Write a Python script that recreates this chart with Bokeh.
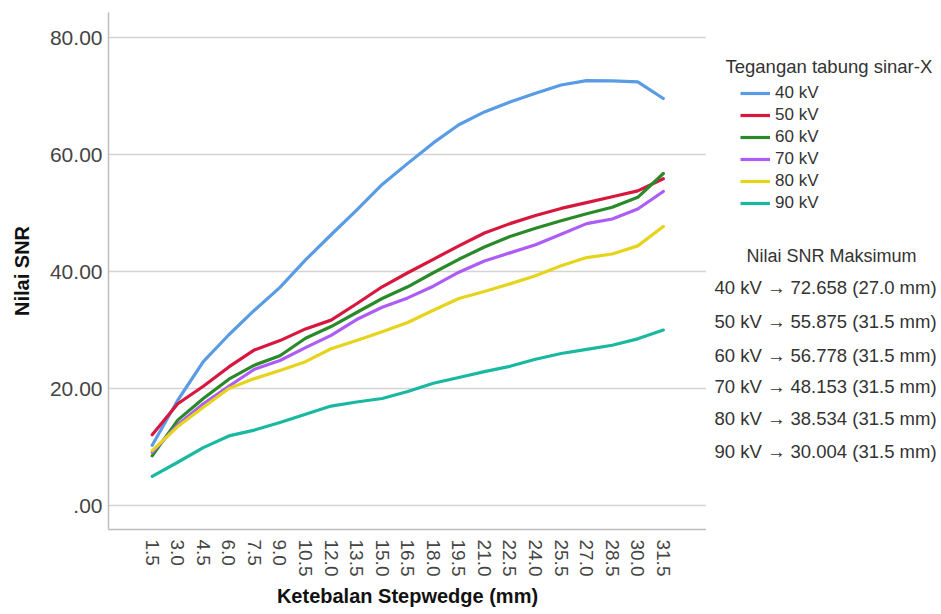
import math
from bokeh.plotting import figure
from bokeh.layouts import row
from bokeh.models import FixedTicker, Range1d, Legend, LegendItem, Label
from bokeh.embed import file_html
from bokeh.resources import INLINE

# ---------------- data ----------------
thickness_labels = ["1.5", "3.0", "4.5", "6.0", "7.5", "9.0", "10.5", "12.0", "13.5", "15.0",
                    "16.5", "18.0", "19.5", "21.0", "22.5", "24.0", "25.5", "27.0", "28.5",
                    "30.0", "31.5"]

snr_40 = [10.3, 18.0, 24.6, 29.2, 33.4, 37.3, 42.0, 46.3, 50.5, 54.9, 58.5, 62.0, 65.1, 67.3,
          69.0, 70.5, 71.9, 72.658, 72.6, 72.45, 69.6]
snr_50 = [12.1, 17.4, 20.4, 23.7, 26.6, 28.2, 30.2, 31.7, 34.5, 37.4, 39.8, 42.1, 44.4, 46.6,
          48.2, 49.6, 50.8, 51.8, 52.8, 53.8, 55.875]
snr_60 = [8.5, 14.6, 18.3, 21.6, 24.0, 25.6, 28.6, 30.6, 33.0, 35.4, 37.4, 39.8, 42.1, 44.2,
          46.0, 47.4, 48.7, 49.9, 51.0, 52.7, 56.778]
snr_70 = [9.1, 13.8, 17.4, 20.4, 23.3, 24.8, 27.0, 29.1, 31.8, 33.9, 35.5, 37.5, 39.9, 41.8,
          43.2, 44.6, 46.4, 48.2, 49.0, 50.7, 53.7]
snr_80 = [9.4, 13.5, 16.8, 20.0, 21.7, 23.1, 24.6, 26.8, 28.2, 29.7, 31.3, 33.4, 35.4, 36.6,
          37.9, 39.3, 41.0, 42.4, 43.0, 44.4, 47.7]
snr_90 = [5.0, 7.4, 9.9, 11.9, 12.9, 14.2, 15.6, 17.0, 17.7, 18.3, 19.5, 20.9, 21.9, 22.9,
          23.8, 25.0, 26.0, 26.7, 27.4, 28.5, 30.0]

series_names = ["40 kV", "50 kV", "60 kV", "70 kV", "80 kV", "90 kV"]
series_values = [snr_40, snr_50, snr_60, snr_70, snr_80, snr_90]
series_colors = ["#5a9be6", "#d8173f", "#2a8a2a", "#ae5cf6", "#e6d41c", "#19b8a0"]

y_ticks = [0, 20, 40, 60, 80]
y_tick_labels = [".00", "20.00", "40.00", "60.00", "80.00"]

legend_title = "Tegangan tabung sinar-X"
max_title = "Nilai SNR Maksimum"
max_lines = ["40 kV \u2192 72.658 (27.0 mm)",
             "50 kV \u2192 55.875 (31.5 mm)",
             "60 kV \u2192 56.778 (31.5 mm)",
             "70 kV \u2192 48.153 (31.5 mm)",
             "80 kV \u2192 38.534 (31.5 mm)",
             "90 kV \u2192 30.004 (31.5 mm)"]

FONT = "Liberation Sans"
n = len(thickness_labels)
xs = list(range(n))

# ---------------- main chart ----------------
p = figure(width=706, height=612, output_backend="svg", toolbar_location=None,
           x_range=Range1d(-1.71, n - 1 + 1.69), y_range=Range1d(-4.1, 84.3),
           min_border_left=108, min_border_right=0, min_border_top=12, min_border_bottom=83)
p.outline_line_color = None

for vals, col in zip(series_values, series_colors):
    p.line(xs, vals, line_color=col, line_width=3.2, line_join="round", line_cap="round")

p.xaxis.ticker = FixedTicker(ticks=xs)
p.xaxis.major_label_overrides = {i: lab for i, lab in zip(xs, thickness_labels)}
p.xaxis.major_label_orientation = -math.pi / 2
p.yaxis.ticker = FixedTicker(ticks=y_ticks)
p.yaxis.major_label_overrides = {t: lab for t, lab in zip(y_ticks, y_tick_labels)}

for ax in (p.xaxis, p.yaxis):
    ax.axis_line_color = "#bdbdbd"
    ax.axis_line_width = 1.5
    ax.major_tick_line_color = None
    ax.minor_tick_line_color = None
    ax.major_tick_out = 0
    ax.major_tick_in = 0
    ax.minor_tick_out = 0
    ax.minor_tick_in = 0
    ax.major_label_text_font = FONT
    ax.major_label_text_color = "#444444"
    ax.axis_label_text_font = FONT
    ax.axis_label_text_font_style = "bold"
    ax.axis_label_text_color = "#111111"

p.xaxis.major_label_text_font_size = "19px"
p.yaxis.major_label_text_font_size = "21px"
p.xaxis.major_label_standoff = 10
p.yaxis.major_label_standoff = 6
p.xaxis.axis_label = "Ketebalan Stepwedge (mm)"
p.yaxis.axis_label = "Nilai SNR"
p.xaxis.axis_label_text_font_size = "20px"
p.yaxis.axis_label_text_font_size = "20px"
p.xaxis.axis_label_standoff = 6
p.yaxis.axis_label_standoff = 14

p.xgrid.grid_line_color = None
p.ygrid.grid_line_color = "#d4d4d4"
p.ygrid.grid_line_width = 1.5

# ---------------- right-hand panel: legend + maxima ----------------
side = figure(width=233, height=612, output_backend="svg", toolbar_location=None,
              x_range=Range1d(0, 233), y_range=Range1d(0, 517),
              x_axis_type=None, y_axis_type=None,
              min_border_left=0, min_border_right=0, min_border_top=12, min_border_bottom=83)
side.outline_line_color = None
side.xgrid.grid_line_color = None
side.ygrid.grid_line_color = None

items = []
for nm, col in zip(series_names, series_colors):
    # legend-only renderer, kept outside the visible range
    r = side.line(x=[-50, -40], y=[-50, -50], line_color=col, line_width=3.2)
    items.append(LegendItem(label=nm, renderers=[r]))

legend = Legend(items=items, location=(34, 315))
legend.background_fill_alpha = 0
legend.border_line_color = None
legend.padding = 0
legend.margin = 0
legend.spacing = 0
legend.glyph_width = 30
legend.glyph_height = 22
legend.label_height = 22
legend.label_standoff = 5
legend.label_text_font = FONT
legend.label_text_font_size = "17px"
legend.label_text_color = "#333333"
side.add_layout(legend)

side.add_layout(Label(x=19, y=463, x_units="screen", y_units="screen", text=legend_title,
                      text_font=FONT, text_font_size="18.5px", text_color="#333333",
                      text_align="left", text_baseline="middle"))

side.add_layout(Label(x=125, y=274, x_units="screen", y_units="screen", text=max_title,
                      text_font=FONT, text_font_size="18px", text_color="#333333",
                      text_align="center", text_baseline="middle"))
row_y = [242, 208, 174, 143, 111, 78]
for txt, yy in zip(max_lines, row_y):
    side.add_layout(Label(x=119, y=yy, x_units="screen", y_units="screen", text=txt,
                          text_font=FONT, text_font_size="18.5px", text_color="#333333",
                          text_align="center", text_baseline="middle"))

layout = row(p, side, spacing=0)
open("out.html", "w").write(file_html(layout, INLINE))
